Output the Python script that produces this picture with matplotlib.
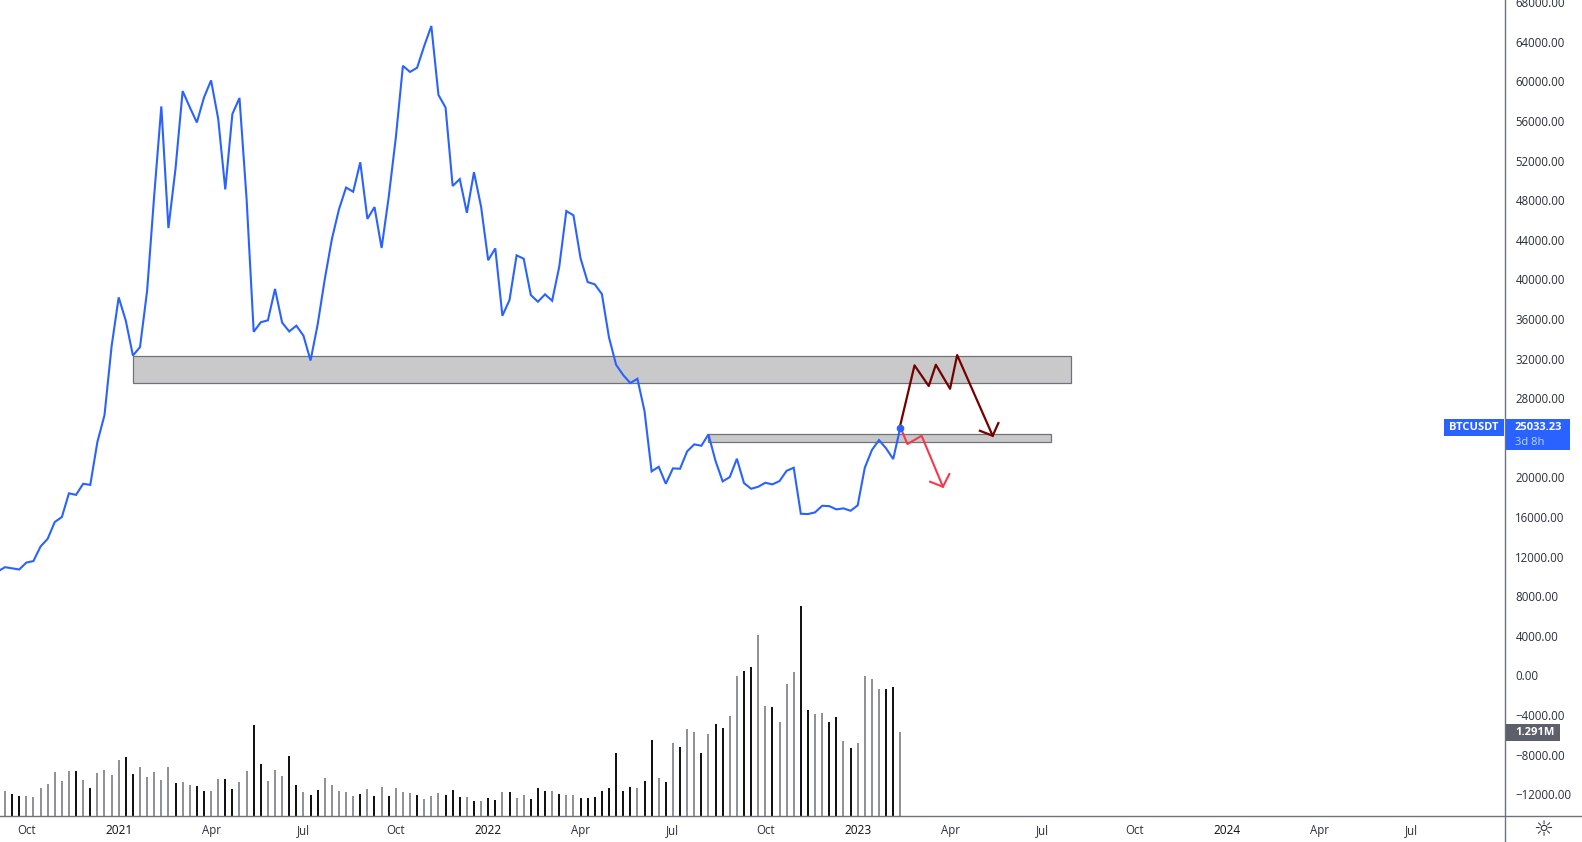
import matplotlib
matplotlib.use('Agg')
import matplotlib.pyplot as plt
from matplotlib.lines import Line2D
from matplotlib.patches import Rectangle

plt.rcParams['font.family'] = ['Open Sans', 'DejaVu Sans']

W, H = 1582, 842
AXIS_X, AXIS_Y = 1505, 816

# weekly closes, the first one sits just off the left edge
closes = [
    10508, 10934, 10818, 10701, 11398, 11552, 13021, 13794, 15494, 15997,
    18393, 18238, 19359, 19243, 23572, 26278, 33235, 38182, 35824, 32307,
    33157, 38839, 48501, 57468, 45177, 51207, 59014, 57391, 55845, 58357,
    60096, 56231, 49081, 56695, 58318, 48115, 34703, 35670, 35863, 39032,
    35631, 34742, 35322, 34317, 31805, 35438, 39998, 44057, 47071, 49274,
    48849, 51825, 46105, 47303, 43168, 48308, 54299, 61565, 60947, 61372,
    63575, 65585, 58628, 57352, 49429, 50125, 46723, 50820, 47342, 41931,
    43129, 36327, 37912, 42426, 42083, 38417, 37740, 38487, 37841, 41275,
    46901, 46466, 42123, 39730, 39497, 38518, 34144, 31377, 30337, 29529,
    29963, 26701, 20610, 21075, 19358, 20913, 20873, 22630, 23337, 23196,
    24347, 21651, 19600, 20035, 21883, 19429, 18853, 19055, 19459, 19297,
    19631, 20671, 20974, 16328, 16298, 16470, 17136, 17100, 16772, 16873,
    16631, 17176, 20974, 22762, 23772, 22933, 21853, 25033.23,
]
close_x = list(range(-1, 127))

# volume in thousands
volumes = [
    389, 343, 313, 313, 297, 435, 497, 681, 543, 697, 697, 558, 435, 666, 712, 635,
    866, 912, 651, 758, 605, 681, 558, 758, 512, 528, 482, 466, 389, 389, 574, 574,
    420, 528, 697, 1404, 804, 543, 712, 620, 927, 482, 374, 328, 405, 589, 482, 389,
    374, 313, 343, 420, 313, 451, 313, 435, 374, 359, 328, 266, 313, 359, 328, 405,
    297, 297, 236, 236, 282, 251, 374, 374, 282, 328, 266, 435, 389, 389, 343, 328,
    328, 282, 282, 297, 389, 435, 973, 389, 451, 435, 543, 1173, 589, 528, 1127, 1066,
    1342, 1296, 973, 1265, 1419, 1358, 1542, 2157, 2234, 2295, 2787, 1696, 1680, 1450, 2034, 2218,
    3233, 1634, 1573, 1588, 1450, 1527, 1158, 1050, 1127, 2157, 2111, 1957, 1957, 1988, 1291,
]
# g = grey bar, k = black bar, ten to a group
volume_kinds = ''.join([
    'gkkggggggg', 'kgkggggkkg', 'ggggkggkkg', 'gkkggkkggg',
    'kkgkkggggg', 'kgkgkgggkg', 'ggkkkgkgkk', 'gkggkkkgkg',
    'gkkkkkkkkg', 'kkgkgkggkg', 'kkggkkggkg', 'ggkkggkkgk',
    'ggggkkg',
])

date_ticks = [3, 16, 29, 42, 55, 68, 81, 94, 107, 120, 133, 146, 159, 172, 185, 198]
date_labels = ['Oct', '2021', 'Apr', 'Jul', 'Oct', '2022', 'Apr', 'Jul', 'Oct', '2023',
               'Apr', 'Jul', 'Oct', '2024', 'Apr', 'Jul']
# 24000 is hidden behind the last price tag
price_ticks = [v for v in range(-12000, 68001, 4000) if v != 24000]

# support / resistance boxes: x start, x end, price low, price high
zone_upper = [18, 150, 29498, 32225]
zone_lower = [99, 147.2, 23540, 24347]

# drawn projections
bear_x = [126, 128, 130, 131, 133, 134, 139]
bear_y = [25287, 31315, 29226, 31377, 28953, 32357, 24206]
bear_head_x = [137.2, 139, 139.8]
bear_head_y = [24711, 24206, 25489]

red_x = [126, 127, 129, 132]
red_y = [25085, 23368, 24206, 19055]
red_head_x = [130.2, 132, 132.9]
red_head_y = [19560, 19055, 20337]

BLUE = '#2962ff'
GREY = '#8f9299'
BLACK = '#131313'
AXIS = '#6f7279'
TEXT = '#2a2e39'


def fx(px):
    return px / W


def fy(py):
    return 1 - py / H


fig = plt.figure(figsize=(W / 100, H / 100), dpi=100, facecolor='white')
rect = [0, fy(AXIS_Y), fx(AXIS_X), AXIS_Y / H]

ax_vol = fig.add_axes(rect)
ax = fig.add_axes(rect)
ax.set_zorder(2)
ax.patch.set_visible(False)

# volume underneath, sharing the x range
bar_colors = [BLACK if k == 'k' else GREY for k in volume_kinds]
ax_vol.vlines(range(len(volumes)), 0, volumes, colors=bar_colors, linewidth=1.44)
ax_vol.set_xlim(-0.704, 211.1)
ax_vol.set_ylim(0, 12541)
ax_vol.axis('off')

for x0, x1, y0, y1 in [zone_upper, zone_lower]:
    ax.add_patch(Rectangle((x0, y0), x1 - x0, y1 - y0, facecolor='#c9c9c9',
                           edgecolor=AXIS, linewidth=0.9, zorder=1))

ax.plot(close_x, closes, color=BLUE, linewidth=1.5, solid_joinstyle='miter', zorder=3)
ax.plot(close_x[-1], closes[-1], 'o', color=BLUE, markersize=5.5, markeredgewidth=0, zorder=5)

ax.plot(bear_x, bear_y, color='#750000', linewidth=1.6, zorder=4)
ax.plot(bear_head_x, bear_head_y, color='#750000', linewidth=1.6, zorder=4)
ax.plot(red_x, red_y, color='#f7374c', linewidth=1.5, zorder=4)
ax.plot(red_head_x, red_head_y, color='#f7374c', linewidth=1.5, zorder=4)

ax.set_xlim(-0.704, 211.1)
ax.set_ylim(-14192, 68211)
ax.set_xticks(date_ticks)
ax.set_xticklabels(date_labels)
ax.yaxis.tick_right()
ax.set_yticks(price_ticks)
ax.set_yticklabels([f'{v:.2f}'.replace('-', '\u2212') for v in price_ticks])
ax.tick_params(axis='x', length=0, pad=6, labelsize=8.3, labelcolor=TEXT)
ax.tick_params(axis='y', length=0, pad=7.5, labelsize=8.3, labelcolor=TEXT)
for lbl in ax.get_xticklabels():
    if lbl.get_text().isdigit():
        lbl.set_color('#0c0e14')
        lbl.set_fontsize(8.6)
for s in ax.spines.values():
    s.set_visible(False)

# axis lines run past the plot into the corner
fig.add_artist(Line2D([fx(AXIS_X), fx(AXIS_X)], [0, 1], color=AXIS, linewidth=1, zorder=4))
fig.add_artist(Line2D([0, 1], [fy(AXIS_Y), fy(AXIS_Y)], color=AXIS, linewidth=1, zorder=4))


def box(x0, y0, x1, y1, color):
    fig.add_artist(Rectangle((fx(x0), fy(y1)), (x1 - x0) / W, (y1 - y0) / H, facecolor=color,
                             edgecolor='none', transform=fig.transFigure, zorder=5))


box(1444, 419, 1504, 436, BLUE)
box(1506, 419, 1570, 450, BLUE)
box(1506, 724, 1560, 741, '#5d606b')

label = dict(color='white', fontsize=8, va='center', zorder=6)
fig.text(fx(1449), fy(427), 'BTCUSDT', fontweight='bold', **label)
fig.text(fx(1515), fy(427), '25033.23', fontweight='bold', **label)
fig.text(fx(1515), fy(442.5), '3d 8h', color='#c4d3ff', fontsize=8, va='center', zorder=6)
fig.text(fx(1515), fy(732.5), '1.291M', fontweight='bold', **label)
fig.text(fx(1543.5), fy(830.5), '\u263c', family='DejaVu Sans', color=TEXT, fontsize=16,
         ha='center', va='center', zorder=6)

fig.savefig('out.png', dpi=100)
